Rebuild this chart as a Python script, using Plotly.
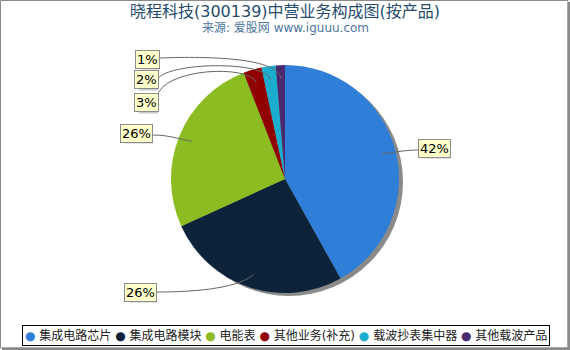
import math
import plotly.graph_objects as go

# ---- data ----
categories = ["集成电路芯片", "集成电路模块", "电能表", "其他业务(补充)", "载波抄表集中器", "其他载波产品"]
values = [41.9, 26.3, 25.9, 2.6, 2.0, 1.3]
colors = ["#2f7ed8", "#0d233a", "#8bbc21", "#910000", "#1aadce", "#492970"]
title_text = "晓程科技(300139)中营业务构成图(按产品)"
subtitle_text = "来源: 爱股网 www.iguuu.com"

# ---- layout constants (pixels) ----
W, H = 570, 350
CX, CY, R = 285, 179, 114
label_centers = [(434, 148), (140, 292), (136, 133), (146, 103), (146, 80), (147, 59)]
label_starts = [(418, 150), (157, 292), (153, 135), (157, 97), (157, 80), (160, 58)]
leader_ctrl = [((404, 150), (392, 153)),
               ((215, 292), (243, 284)),
               ((170, 135), (182, 140)),
               ((162, 68), (250, 64)),
               ((165, 62), (266, 60)),
               ((210, 56), (279, 58))]


def px(x):
    return x / W


def py(y):
    return 1 - y / H


total = sum(values)
pct = [f"{round(v / total * 100)}%" for v in values]

fig = go.Figure()

# shadow
fig.add_trace(go.Pie(values=[1], marker=dict(colors=["#8a8a8a"], line=dict(width=0)),
                     domain=dict(x=[px(CX - R + 4), px(CX + R + 4)], y=[py(CY + R + 3), py(CY - R + 3)]),
                     textinfo="none", hoverinfo="skip", showlegend=False, sort=False))
# main pie
fig.add_trace(go.Pie(labels=categories, values=values, marker=dict(colors=colors, line=dict(width=0)),
                     domain=dict(x=[px(CX - R), px(CX + R)], y=[py(CY + R), py(CY - R)]),
                     textinfo="none", sort=False, direction="clockwise", rotation=0,
                     showlegend=False))

shapes = []
annotations = []
cum = 0.0
for i, v in enumerate(values):
    mid = (cum + v / 2) / total * 2 * math.pi
    cum += v
    ax_ = CX + 0.88 * R * math.sin(mid)
    ay_ = CY - 0.88 * R * math.cos(mid)
    sx, sy = label_starts[i]
    (c1x, c1y), (c2x, c2y) = leader_ctrl[i]
    path = (f"M {px(sx)},{py(sy)} C {px(c1x)},{py(c1y)} {px(c2x)},{py(c2y)} "
            f"{px(ax_)},{py(ay_)}")
    shapes.append(dict(type="path", path=path, xref="paper", yref="paper",
                       line=dict(color="#666666", width=1)))
    lx, ly = label_centers[i]
    # small box shadow
    shapes.append(dict(type="rect", xref="paper", yref="paper",
                       x0=px(lx - (9 if len(pct[i]) == 2 else 13) + 2),
                       x1=px(lx + (11 if len(pct[i]) == 2 else 16) + 1),
                       y0=py(ly + 10.5), y1=py(ly - 7), layer="below",
                       line=dict(width=0), fillcolor="#c8c8c8"))
    annotations.append(dict(x=px(lx), y=py(ly), xref="paper", yref="paper",
                            xanchor="center", yanchor="middle",
                            text=pct[i], showarrow=False, bgcolor="#ffffcc",
                            font=dict(size=13, color="#000000", family="DejaVu Sans"),
                            borderpad=1, borderwidth=1, bordercolor="#8c8c8c"))

# title + subtitle
annotations.append(dict(x=0.5, y=py(12), xref="paper", yref="paper", text=title_text,
                        xanchor="center", yanchor="middle",
                        showarrow=False, font=dict(size=16, color="#274b6d",
                                                   family="DejaVu Sans, Noto Sans CJK SC")))
annotations.append(dict(x=0.5, y=py(28), xref="paper", yref="paper", text=subtitle_text,
                        xanchor="center", yanchor="middle",
                        showarrow=False, font=dict(size=12, color="#4d759e",
                                                   family="DejaVu Sans, Noto Sans CJK SC")))

# legend (as a bordered text row)
legend_text = " ".join(f'<span style="color:{c}">●</span> {n}' for n, c in zip(categories, colors))
annotations.append(dict(x=px(286), y=py(335), xref="paper", yref="paper", text=legend_text,
                        xanchor="center", yanchor="middle",
                        showarrow=False, bgcolor="#ffffff", bordercolor="#000000", borderwidth=1,
                        borderpad=2,
                        font=dict(size=12, color="#222222", family="DejaVu Sans, Noto Sans CJK SC")))

# outer frame
shapes.append(dict(type="rect", xref="paper", yref="paper", x0=px(0.5), x1=px(568), y0=py(348), y1=py(0.5),
                   line=dict(color="#8a8a8a", width=1)))
shapes.append(dict(type="rect", xref="paper", yref="paper", x0=px(567.5), x1=1, y0=0, y1=py(2),
                   line=dict(width=0), fillcolor="#8a8a8a"))
shapes.append(dict(type="rect", xref="paper", yref="paper", x0=px(2), x1=1, y0=0, y1=py(347.5),
                   line=dict(width=0), fillcolor="#8a8a8a"))

fig.update_layout(width=W, height=H, margin=dict(l=0, r=0, t=0, b=0),
                  paper_bgcolor="#ffffff", plot_bgcolor="#ffffff",
                  shapes=shapes, annotations=annotations, showlegend=False)

fig.write_html("out.html")
